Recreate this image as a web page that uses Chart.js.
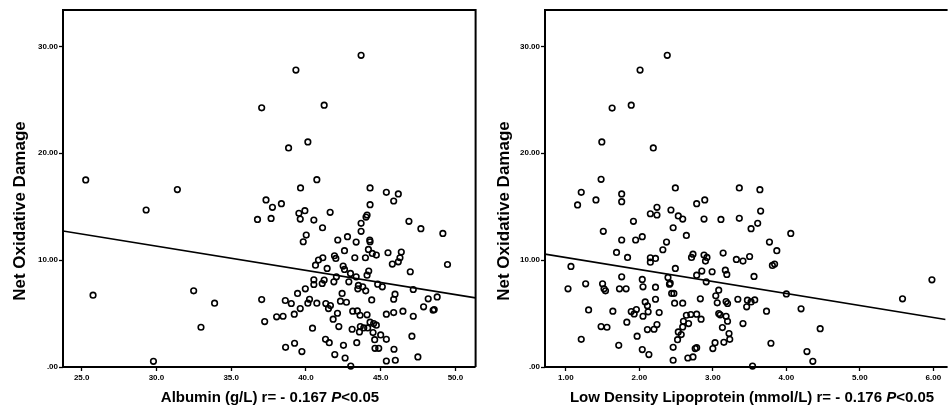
<!DOCTYPE html>
<html>
<head>
<meta charset="utf-8">
<script src="https://cdn.jsdelivr.net/npm/chart.js@4.4.1/dist/chart.umd.min.js"></script>
<style>
    html, body { margin: 0; padding: 0; background: #fff; overflow: hidden; }
    #wrap { position: relative; width: 950px; height: 412px; }
    .panel { position: absolute; top: 0; height: 412px; }
    #panel-albumin { left: 0; width: 480px; }
    #panel-ldl { left: 480px; width: 470px; }
</style>
</head>
<body>
<div id="wrap">
    <div class="panel" id="panel-albumin"><canvas id="albuminChart" width="480" height="412"></canvas></div>
    <div class="panel" id="panel-ldl"><canvas id="ldlChart" width="470" height="412"></canvas></div>
</div>
<script>
// ---- data ----
const yTicks = [0, 10, 20, 30];

const albuminTicks = [25, 30, 35, 40, 45, 50];
const albuminRange = [23.75, 51.35];
// [albumin g/L, net oxidative damage]
const albuminPoints = [
    [25.27, 17.5], [25.76, 6.72], [29.31, 14.69], [29.8, 0.53], [31.4, 16.6], [32.49, 7.13],
    [32.98, 3.72], [33.89, 5.97], [36.76, 13.81], [37.04, 24.25], [37.04, 6.31], [37.24, 4.25],
    [37.33, 15.63], [37.67, 13.9], [37.76, 14.94], [38.04, 4.69], [38.36, 15.28], [38.47, 4.75],
    [38.62, 6.22], [38.64, 1.84], [38.84, 20.5], [39.02, 5.94], [39.22, 4.94], [39.24, 2.22],
    [39.33, 27.78], [39.44, 6.88], [39.53, 14.38], [39.62, 13.84], [39.64, 16.75], [39.62, 5.47],
    [39.73, 1.44], [39.82, 11.72], [39.93, 14.63], [39.96, 7.31], [40.02, 12.34], [40.13, 21.06],
    [40.13, 5.97], [40.24, 6.34], [40.44, 3.63], [40.53, 13.75], [40.53, 8.16], [40.53, 7.72],
    [40.64, 9.53], [40.73, 17.53], [40.73, 5.97], [40.84, 10.0], [41.09, 7.81], [41.11, 13.03],
    [41.13, 10.22], [41.22, 24.5], [41.22, 8.13], [41.31, 2.59], [41.33, 5.94], [41.42, 9.22],
    [41.51, 5.47], [41.56, 2.28], [41.62, 14.47], [41.64, 5.75], [41.82, 4.47], [41.87, 7.97],
    [41.91, 10.41], [41.93, 1.16], [42.0, 10.16], [42.04, 8.44], [42.11, 5.03], [42.13, 11.88],
    [42.2, 3.78], [42.31, 6.16], [42.42, 6.88], [42.49, 9.44], [42.51, 2.03], [42.58, 9.13],
    [42.58, 10.88], [42.62, 0.84], [42.71, 6.06], [42.78, 12.19], [42.87, 7.97], [42.98, 8.75],
    [43.0, 0.09], [43.09, 3.53], [43.13, 5.22], [43.27, 10.22], [43.36, 11.69], [43.36, 8.44],
    [43.4, 2.28], [43.44, 5.25], [43.47, 7.31], [43.51, 7.63], [43.58, 3.28], [43.62, 4.84],
    [43.64, 3.78], [43.69, 13.44], [43.69, 12.69], [43.69, 29.16], [43.8, 7.5], [43.87, 3.66],
    [43.98, 10.22], [44.0, 7.13], [44.02, 14.03], [44.09, 14.22], [44.09, 8.59], [44.09, 4.88],
    [44.13, 3.66], [44.18, 11.0], [44.2, 8.97], [44.27, 11.88], [44.29, 11.72], [44.29, 16.75],
    [44.29, 15.19], [44.29, 4.19], [44.4, 6.28], [44.44, 10.63], [44.49, 3.22], [44.53, 4.06],
    [44.6, 2.56], [44.62, 1.75], [44.71, 3.91], [44.71, 10.47], [44.8, 7.75], [44.87, 1.75],
    [45.0, 3.0], [45.11, 7.5], [45.38, 2.59], [45.38, 0.56], [45.38, 16.34], [45.38, 4.94],
    [45.49, 10.69], [45.78, 9.63], [45.87, 6.34], [45.87, 5.09], [45.87, 15.53], [45.89, 1.66],
    [45.96, 6.81], [45.98, 0.63], [46.18, 16.19], [46.18, 9.84], [46.29, 10.22], [46.38, 10.75],
    [46.49, 5.22], [46.89, 13.63], [46.98, 8.91], [47.09, 2.88], [47.18, 7.25], [47.18, 4.75],
    [47.49, 0.94], [47.69, 12.94], [47.87, 5.63], [48.18, 6.38], [48.51, 5.31], [48.58, 5.38],
    [48.78, 6.56], [49.16, 12.5], [49.47, 9.59]
];
// fitted line, end points at the axis limits
const albuminFit = [[23.75, 12.72], [51.35, 6.47]];

const ldlTicks = [1, 2, 3, 4, 5, 6];
const ldlRange = [0.717, 6.166];
// [LDL mmol/L, net oxidative damage]
const ldlPoints = [
    [1.03, 7.31], [1.07, 9.41], [1.16, 15.16], [1.21, 16.34], [1.21, 2.59], [1.27, 7.78],
    [1.31, 5.34], [1.41, 15.63], [1.48, 17.56], [1.49, 21.06], [1.48, 3.78], [1.5, 7.78],
    [1.51, 12.69], [1.52, 7.31], [1.54, 7.13], [1.56, 3.72], [1.63, 24.22], [1.64, 5.22],
    [1.69, 10.72], [1.72, 2.03], [1.73, 7.31], [1.76, 16.19], [1.76, 15.47], [1.76, 11.88],
    [1.76, 8.44], [1.82, 7.31], [1.83, 4.19], [1.84, 10.25], [1.89, 24.5], [1.89, 5.19],
    [1.92, 13.63], [1.93, 4.97], [1.95, 11.88], [1.96, 5.38], [1.97, 2.88], [2.01, 27.78],
    [2.04, 12.19], [2.04, 8.19], [2.04, 1.63], [2.05, 7.5], [2.05, 4.75], [2.08, 6.09],
    [2.11, 3.5], [2.11, 5.72], [2.12, 5.16], [2.13, 1.16], [2.15, 10.22], [2.15, 14.34],
    [2.15, 9.81], [2.19, 20.5], [2.2, 3.53], [2.22, 7.47], [2.22, 6.34], [2.22, 10.16],
    [2.24, 14.94], [2.24, 14.22], [2.24, 3.97], [2.27, 5.09], [2.32, 10.97], [2.37, 11.69],
    [2.38, 29.16], [2.39, 8.38], [2.41, 7.75], [2.42, 7.84], [2.43, 14.69], [2.44, 6.88],
    [2.46, 1.84], [2.46, 13.03], [2.46, 0.63], [2.47, 6.88], [2.48, 5.97], [2.49, 16.75],
    [2.49, 9.22], [2.52, 2.56], [2.53, 14.13], [2.53, 3.28], [2.57, 3.03], [2.59, 13.84],
    [2.59, 3.75], [2.59, 5.97], [2.6, 4.28], [2.64, 12.31], [2.64, 4.84], [2.66, 0.84],
    [2.67, 4.06], [2.7, 4.91], [2.71, 10.25], [2.73, 0.94], [2.73, 10.56], [2.76, 1.72],
    [2.78, 1.81], [2.78, 4.94], [2.78, 15.28], [2.78, 8.59], [2.83, 6.38], [2.84, 4.47],
    [2.85, 8.97], [2.88, 10.47], [2.88, 13.84], [2.89, 15.63], [2.9, 9.91], [2.91, 7.97],
    [2.92, 10.25], [2.99, 8.91], [3.0, 1.72], [3.03, 2.28], [3.04, 6.66], [3.06, 6.0],
    [3.08, 7.19], [3.08, 5.0], [3.1, 4.88], [3.11, 13.81], [3.13, 3.69], [3.14, 10.66],
    [3.15, 2.31], [3.17, 9.06], [3.18, 6.13], [3.18, 4.75], [3.19, 8.66], [3.2, 5.94],
    [3.2, 4.28], [3.22, 3.13], [3.23, 2.59], [3.32, 10.06], [3.34, 6.34], [3.36, 16.75],
    [3.36, 13.91], [3.41, 4.06], [3.41, 9.91], [3.46, 5.63], [3.47, 6.25], [3.5, 10.34],
    [3.52, 12.94], [3.52, 6.09], [3.54, 0.09], [3.56, 8.47], [3.57, 6.28], [3.61, 13.44],
    [3.64, 16.59], [3.65, 14.59], [3.73, 5.22], [3.77, 11.69], [3.79, 2.22], [3.81, 9.5],
    [3.84, 9.63], [3.87, 10.88], [4.0, 6.84], [4.06, 12.5], [4.2, 5.44], [4.28, 1.44],
    [4.36, 0.53], [4.46, 3.59], [5.58, 6.38], [5.98, 8.16]
];
const ldlFit = [[0.717, 10.56], [6.166, 4.44]];

const yMax = 33.4;
const FONT = "'Liberation Sans', Arial, sans-serif";

// draws the frame and the axis titles (x title has an italic P)
const framePlugin = {
    id: 'frameTitles',
    afterDraw(chart, args, opts) {
        const { ctx, chartArea: a } = chart;
        ctx.save();
        ctx.strokeStyle = '#000';
        ctx.lineWidth = 2;
        ctx.beginPath();
        if (opts.rightBorder) {
            ctx.moveTo(a.right, a.bottom);
            ctx.lineTo(a.right, a.top);
        } else {
            ctx.moveTo(a.right + 2, a.top);
        }
        ctx.lineTo(a.left, a.top);
        ctx.lineTo(a.left, a.bottom);
        ctx.lineTo(a.right + (opts.rightBorder ? 0 : 2), a.bottom);
        ctx.stroke();

        // y title
        ctx.fillStyle = '#000';
        ctx.translate(opts.yTitleX, opts.yTitleY);
        ctx.rotate(-Math.PI / 2);
        ctx.font = 'bold 17px ' + FONT;
        ctx.textAlign = 'center';
        ctx.textBaseline = 'middle';
        ctx.fillText('Net Oxidative Damage', 0, 0);
        ctx.setTransform(1, 0, 0, 1, 0, 0);

        // x title in pieces
        const parts = [
            { text: opts.xTitle, font: 'bold 15px ' + FONT },
            { text: 'P', font: 'italic bold 15px ' + FONT },
            { text: '<0.05', font: 'bold 15px ' + FONT }
        ];
        let total = 0;
        parts.forEach(p => { ctx.font = p.font; p.w = ctx.measureText(p.text).width; total += p.w; });
        let x = opts.xTitleX - total / 2;
        ctx.textAlign = 'left';
        ctx.textBaseline = 'middle';
        parts.forEach(p => {
            ctx.font = p.font;
            ctx.fillText(p.text, x, opts.xTitleY);
            x += p.w;
        });
        ctx.restore();
    }
};

function makeChart(id, points, fit, range, xTicks, decimals, titleOpts, yWidth, padRight) {
    return new Chart(document.getElementById(id), {
        type: 'scatter',
        data: {
            datasets: [
                {
                    data: points.map(p => ({ x: p[0], y: p[1] })),
                    pointRadius: 2.8,
                    pointHoverRadius: 2.8,
                    borderWidth: 1.6,
                    borderColor: '#000',
                    backgroundColor: 'rgba(0,0,0,0)',
                    clip: false
                },
                {
                    type: 'line',
                    data: fit.map(p => ({ x: p[0], y: p[1] })),
                    borderColor: '#000',
                    borderWidth: 1.6,
                    pointRadius: 0,
                    fill: false
                }
            ]
        },
        options: {
            responsive: false,
            animation: false,
            layout: { padding: { top: 10, right: padRight, left: 0, bottom: 0 } },
            plugins: {
                legend: { display: false },
                tooltip: { enabled: false },
                frameTitles: titleOpts
            },
            scales: {
                x: {
                    type: 'linear',
                    min: range[0],
                    max: range[1],
                    afterBuildTicks: s => { s.ticks = xTicks.map(v => ({ value: v })); },
                    afterFit: s => { s.height = 45; },
                    grid: { drawOnChartArea: false, tickLength: 4, tickColor: '#000', tickWidth: 1.3 },
                    border: { display: false },
                    ticks: {
                        color: '#000',
                        padding: 2,
                        maxRotation: 0,
                        font: { family: FONT, size: 8, weight: 'bold' },
                        callback: v => v.toFixed(decimals)
                    }
                },
                y: {
                    min: 0,
                    max: yMax,
                    afterBuildTicks: s => { s.ticks = yTicks.map(v => ({ value: v })); },
                    afterFit: s => { s.width = yWidth; },
                    grid: { drawOnChartArea: false, tickLength: 4, tickColor: '#000', tickWidth: 1.3 },
                    border: { display: false },
                    ticks: {
                        color: '#000',
                        padding: 1,
                        font: { family: FONT, size: 8, weight: 'bold' },
                        callback: v => v === 0 ? '.00' : v.toFixed(2)
                    }
                }
            }
        },
        plugins: [framePlugin]
    });
}

makeChart('albuminChart', albuminPoints, albuminFit, albuminRange, albuminTicks, 1, {
    rightBorder: true,
    yTitleX: 20, yTitleY: 211,
    xTitleX: 270, xTitleY: 398,
    xTitle: 'Albumin (g/L) r= - 0.167 '
}, 63, 3);

makeChart('ldlChart', ldlPoints, ldlFit, ldlRange, ldlTicks, 2, {
    rightBorder: false,
    yTitleX: 24, yTitleY: 211,
    xTitleX: 272, xTitleY: 398,
    xTitle: 'Low Density Lipoprotein (mmol/L) r= - 0.176 '
}, 65, 0);
</script>
</body>
</html>
